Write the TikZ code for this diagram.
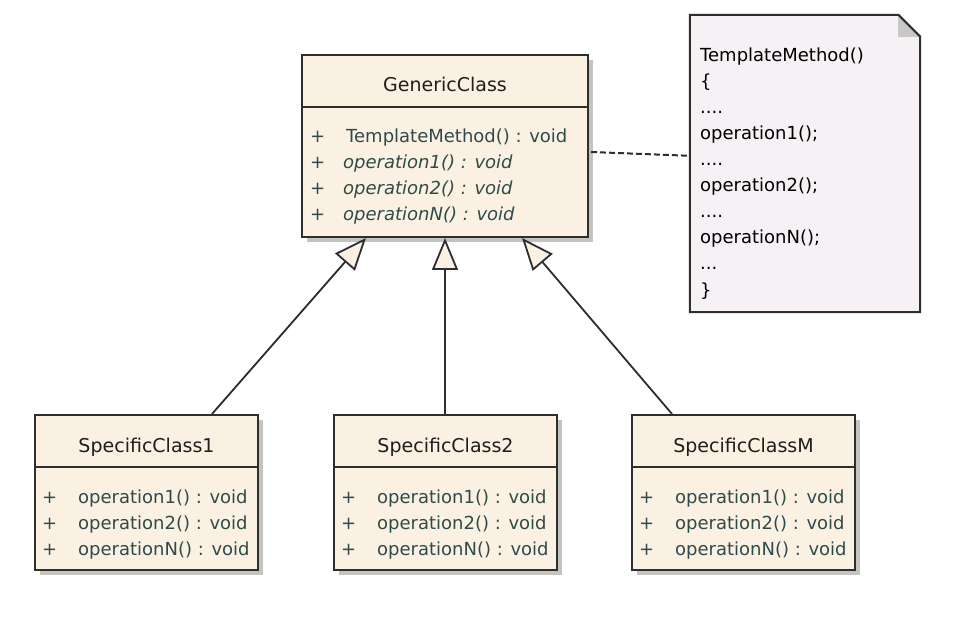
\documentclass[tikz,border=0pt]{standalone}
\usepackage{fontspec}
\setmainfont{DejaVu Sans}
\usetikzlibrary{arrows.meta,calc,shadows}
\definecolor{cream}{HTML}{FBF1E3}
\definecolor{notefill}{HTML}{F5F1F5}
\definecolor{shadowc}{HTML}{C4C4BE}
\definecolor{edgec}{HTML}{2E2E2E}
\definecolor{methodc}{HTML}{2F4A4A}
\definecolor{titlec}{HTML}{1E1E1E}
\definecolor{foldc}{HTML}{C8C8C8}
\begin{document}
\begin{tikzpicture}[x=1pt,y=-1pt,
  classbox/.style={draw=edgec, line width=2pt, fill=cream, inner sep=0pt, rectangle,
    drop shadow={shadow xshift=5pt, shadow yshift=-5pt, fill=shadowc, opacity=1}},
  divline/.style={draw=edgec, line width=2pt},
  title/.style={inner sep=0pt, anchor=base, text=titlec, font=\fontsize{19}{22}\selectfont},
  plus/.style={inner sep=0pt, anchor=base west, text=methodc, font=\fontsize{18}{22}\selectfont},
  meth/.style={inner sep=0pt, anchor=base west, text=methodc, font=\fontsize{18}{22}\selectfont},
  absmeth/.style={meth, font=\fontsize{18}{22}\selectfont\itshape},
  notetext/.style={inner sep=0pt, anchor=base west, text=black, font=\fontsize{18}{22}\selectfont},
  inh/.style={draw=edgec, line width=1.8pt, -{Triangle[length=32pt, width=26pt, fill=cream]}},
  noteline/.style={draw=edgec, line width=2pt, dash pattern=on 6pt off 3pt},
]
\useasboundingbox (0,0) rectangle (958,628);
\fill[white] (0,0) rectangle (958,628);

% Generic class
\node[classbox, minimum width=286pt, minimum height=182pt] (gen) at (445,146) {};
\draw[divline] ($(gen.north west)+(0,53)$) -- ($(gen.north east)+(0,53)$);
\node[title] (gent) at (445,92) {GenericClass};
\node[plus] (gp1) at (310,143) {+};
\node[plus] (gp2) at (310,169) {+};
\node[plus] (gp3) at (310,195) {+};
\node[plus] (gp4) at (310,221) {+};
\node[meth] (gm1) at (346,143) {TemplateMethod() : void};
\node[absmeth] (gm2) at (343,169) {operation1() : void};
\node[absmeth] (gm3) at (343,195) {operation2() : void};
\node[absmeth] (gm4) at (343,221) {operationN() : void};

% Specific classes
\node[classbox, minimum width=223pt, minimum height=155pt] (sc1) at (146.5,492.5) {};
\draw[divline] ($(sc1.north west)+(0,53)$) -- ($(sc1.north east)+(0,53)$);
\node[title] (sc1t) at (146.5,452) {SpecificClass1};
\node[plus] (s1p1) at (42,503) {+};
\node[plus] (s1p2) at (42,529) {+};
\node[plus] (s1p3) at (42,555) {+};
\node[meth] (s1m1) at (78,503) {operation1() : void};
\node[meth] (s1m2) at (78,529) {operation2() : void};
\node[meth] (s1m3) at (78,555) {operationN() : void};

\node[classbox, minimum width=223pt, minimum height=155pt] (sc2) at (445.5,492.5) {};
\draw[divline] ($(sc2.north west)+(0,53)$) -- ($(sc2.north east)+(0,53)$);
\node[title] (sc2t) at (445.5,452) {SpecificClass2};
\node[plus] (s2p1) at (341,503) {+};
\node[plus] (s2p2) at (341,529) {+};
\node[plus] (s2p3) at (341,555) {+};
\node[meth] (s2m1) at (377,503) {operation1() : void};
\node[meth] (s2m2) at (377,529) {operation2() : void};
\node[meth] (s2m3) at (377,555) {operationN() : void};

\node[classbox, minimum width=223pt, minimum height=155pt] (scm) at (743.5,492.5) {};
\draw[divline] ($(scm.north west)+(0,53)$) -- ($(scm.north east)+(0,53)$);
\node[title] (scmt) at (743.5,452) {SpecificClassM};
\node[plus] (smp1) at (639,503) {+};
\node[plus] (smp2) at (639,529) {+};
\node[plus] (smp3) at (639,555) {+};
\node[meth] (smm1) at (675,503) {operation1() : void};
\node[meth] (smm2) at (675,529) {operation2() : void};
\node[meth] (smm3) at (675,555) {operationN() : void};

% Generalizations
\draw[inh] ($(sc1.north west)+(178,0)$) -- ($(gen.south west)+(65,0)$);
\draw[inh] (gen.south |- sc2.north) -- (gen.south);
\draw[inh] ($(scm.north west)+(41,0)$) -- ($(gen.south west)+(221,0)$);

% Note
\node[minimum width=230pt, minimum height=297pt, inner sep=0pt] (note) at (805,163.5) {};
\draw[draw=edgec, line width=2pt, fill=notefill, line join=miter]
  (note.north west) -- ($(note.north east)+(-22,0)$) -- ($(note.north east)+(0,22)$)
  -- (note.south east) -- (note.south west) -- cycle;
\fill[foldc] ($(note.north east)+(-22,0)$) -- ($(note.north east)+(-22,22)$) -- ($(note.north east)+(0,22)$) -- cycle;
\draw[draw=edgec, line width=2pt] ($(note.north east)+(-22,0)$) -- ($(note.north east)+(0,22)$);
\node[notetext] (n1) at (700,62) {TemplateMethod()};
\node[notetext] (n2) at (700,88) {\{};
\node[notetext] (n3) at (700,114) {....};
\node[notetext] (n4) at (700,140) {operation1();};
\node[notetext] (n5) at (700,166) {....};
\node[notetext] (n6) at (700,192) {operation2();};
\node[notetext] (n7) at (700,218) {....};
\node[notetext] (n8) at (700,244) {operationN();};
\node[notetext] (n9) at (700,270) {...};
\node[notetext] (n10) at (700,296) {\}};

% Note link
\draw[noteline] ($(gen.north east)+(2,98)$) -- ($(note.north west)+(0,141)$);
\end{tikzpicture}
\end{document}
